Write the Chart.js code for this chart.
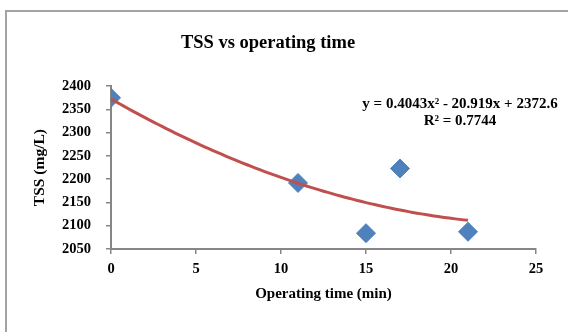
<!DOCTYPE html>
<html>
<head>
<meta charset="utf-8">
<script src="https://cdn.jsdelivr.net/npm/chart.js@4.4.1/dist/chart.umd.min.js"></script>
<style>
    body { margin: 0; background: #fff; overflow: hidden; }
    #wrap { position: relative; width: 568px; height: 332px; overflow: hidden; }
    #frame { position: absolute; left: 5px; top: 10px; width: 620px; height: 400px; border: 2px solid #a3a3a3; }
    #tssChart { position: absolute; left: 0; top: 0; }
</style>
</head>
<body>
<div id="wrap">
    <div id="frame"></div>
    <canvas id="tssChart" width="568" height="332"></canvas>
</div>
<script>
// TSS vs operating time data
const timeMin = [0, 11, 15, 17, 21];
const tssValues = [2375, 2192, 2084, 2223, 2087];
const xTickValues = [0, 5, 10, 15, 20, 25];
const yTickValues = [2050, 2100, 2150, 2200, 2250, 2300, 2350, 2400];
// polynomial trendline shown on the chart: a*x^2 + b*x + c
const fitCoef = [0.4043, -20.919, 2372.6];
const fitRange = [0, 21];
const equationLines = ['y = 0.4043x\u00b2 - 20.919x + 2372.6', 'R\u00b2 = 0.7744'];

const serif = "'Liberation Serif', 'Times New Roman', serif";
const axisGrey = '#868686';

function trendPoints() {
    const pts = [];
    for (let x = fitRange[0]; x <= fitRange[1] + 1e-9; x += 0.25) {
        pts.push({ x: x, y: fitCoef[0] * x * x + fitCoef[1] * x + fitCoef[2] });
    }
    return pts;
}

const equationPlugin = {
    id: 'equationText',
    afterDraw(chart) {
        const ctx = chart.ctx;
        ctx.save();
        ctx.fillStyle = '#000';
        ctx.font = 'bold 15px ' + serif;
        ctx.textAlign = 'center';
        ctx.textBaseline = 'middle';
        ctx.fillText(equationLines[0], 460, 104);
        ctx.fillText(equationLines[1], 460, 121);
        ctx.restore();
    }
};

new Chart(document.getElementById('tssChart'), {
    type: 'scatter',
    data: {
        datasets: [
            {
                label: 'Poly. (TSS)',
                data: trendPoints(),
                showLine: true,
                borderColor: '#C0504D',
                borderWidth: 3,
                pointRadius: 0,
                tension: 0,
                order: 0
            },
            {
                label: 'TSS',
                data: timeMin.map((t, i) => ({ x: t, y: tssValues[i] })),
                pointStyle: 'rectRot',
                pointRadius: 9.5,
                backgroundColor: '#4F81BD',
                borderColor: '#4F81BD',
                borderWidth: 1,
                order: 1
            }
        ]
    },
    options: {
        responsive: false,
        animation: false,
        devicePixelRatio: 1,
        layout: { padding: { left: 0, right: 32, top: 0, bottom: 0 } },
        plugins: {
            legend: { display: false },
            tooltip: { enabled: false },
            title: {
                display: true,
                text: 'TSS vs operating time',
                color: '#000',
                font: { family: serif, size: 18.5, weight: 'bold' },
                padding: { top: 32, bottom: 32 }
            }
        },
        scales: {
            x: {
                type: 'linear',
                min: 0,
                max: 25,
                afterBuildTicks: s => { s.ticks = xTickValues.map(v => ({ value: v })); },
                afterFit: s => { s.height = 83; },
                ticks: { color: '#000', padding: 7, font: { family: serif, size: 14.5, weight: 'bold' }, callback: v => String(v) },
                grid: { drawOnChartArea: false, drawTicks: true, tickLength: 5, color: axisGrey, lineWidth: 1.5 },
                border: { display: true, color: axisGrey, width: 2 },
                title: {
                    display: true,
                    text: 'Operating time (min)',
                    color: '#000',
                    font: { family: serif, size: 15, weight: 'bold' },
                    padding: { top: 0, bottom: 29 }
                }
            },
            y: {
                type: 'linear',
                min: 2050,
                max: 2400,
                afterBuildTicks: s => { s.ticks = yTickValues.map(v => ({ value: v })); },
                afterFit: s => { s.width = 111; },
                ticks: { color: '#000', padding: 15, font: { family: serif, size: 14.5, weight: 'bold' }, callback: v => String(v) },
                grid: { drawOnChartArea: false, drawTicks: true, tickLength: 5, color: axisGrey, lineWidth: 1.5 },
                border: { display: true, color: axisGrey, width: 2 },
                title: {
                    display: true,
                    text: 'TSS (mg/L)',
                    color: '#000',
                    font: { family: serif, size: 15.5, weight: 'bold' },
                    padding: { top: 31, bottom: 0 }
                }
            }
        }
    },
    plugins: [equationPlugin]
});
</script>
</body>
</html>
